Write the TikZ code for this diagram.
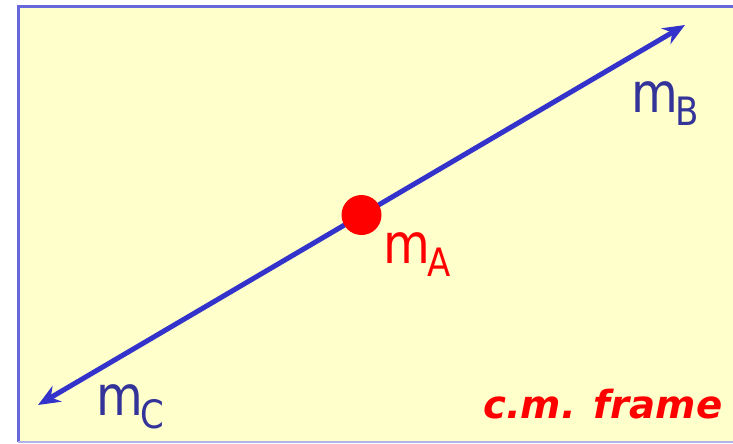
\documentclass[tikz,border=0pt]{standalone}
\usepackage{fontspec}
\setmainfont{DejaVu Sans}[
  BoldFont={DejaVu Sans Bold},
  ItalicFont={DejaVu Sans Oblique},
  BoldItalicFont={DejaVu Sans Bold Oblique}]
\usetikzlibrary{arrows.meta}
\definecolor{frameBg}{RGB}{255,255,204}
\definecolor{frameLine}{RGB}{102,102,221}
\definecolor{axisBlue}{RGB}{51,51,204}
\definecolor{labelBlue}{RGB}{51,51,153}
\definecolor{massRed}{RGB}{255,0,0}

% mass label: big m with a lowered subscript letter
\newcommand{\massLabel}[1]{\scalebox{1}[1.15]{\fontsize{48}{48}\selectfont m\kern-2pt\raisebox{-12pt}{\fontsize{34}{34}\selectfont #1}}}

\begin{document}
\begin{tikzpicture}[
    x=1pt, y=-1pt,
    % Text label style
    massText/.style={
        anchor=base west,
        inner sep=0pt
    },
    % Double headed axis
    axisArrow/.style={
        {Stealth[length=22pt,width=18pt]}-{Stealth[length=22pt,width=18pt]},
        line width=5pt,
        draw=axisBlue
    },
    % Centre mass dot
    massDot/.style={
        circle,
        fill=massRed,
        minimum size=40pt,
        inner sep=0pt
    }
]

    \useasboundingbox (0,0) rectangle (733,444);

    % Frame
    \fill[frameBg] (18,7) rectangle (733,442);
    \draw[frameLine, line width=3pt] (18,442) -- (18,7) -- (733,7);
    \draw[frameLine!50, line width=1.5pt] (18,442) -- (733,442);

    % Axis ends
    \coordinate (tipC) at (38,405);
    \coordinate (tipB) at (685,25);
    \draw[axisArrow] (tipC) -- (tipB);

    % Mass A at the centre
    \node[massDot] (dotA) at (361.5,215) {};

    % Labels
    \node[massText, text=labelBlue] (labB) at (631,112) {\massLabel{B}};
    \node[massText, text=massRed] (labA) at (383,263) {\massLabel{A}};
    \node[massText, text=labelBlue] (labC) at (96,415) {\massLabel{C}};
    \node[massText, text=massRed, font=\fontsize{38.7}{40}\selectfont\bfseries\itshape] (frameTag) at (483,418) {c.m. frame};

\end{tikzpicture}
\end{document}
